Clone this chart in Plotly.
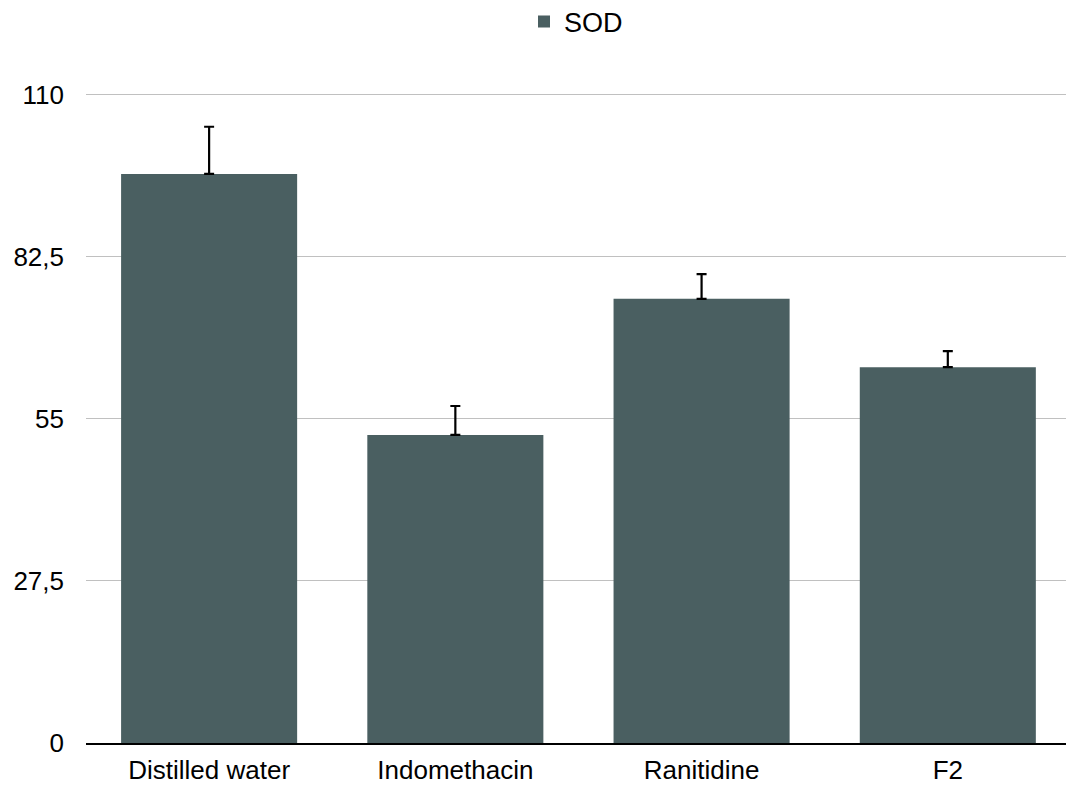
import plotly.graph_objects as go

categories = ["Distilled water", "Indomethacin", "Ranitidine", "F2"]
sod_values = [96.6, 52.3, 75.4, 63.8]
sod_errors = [8.0, 4.9, 4.2, 2.7]
tick_vals = [0, 27.5, 55, 82.5, 110]
tick_text = ["0", "27,5", "55", "82,5", "110"]

fig = go.Figure()
fig.add_trace(go.Bar(
    x=categories, y=sod_values, name="SOD",
    marker=dict(color="#4a5f61", line=dict(width=0)),
    error_y=dict(type="data", array=sod_errors, symmetric=False, arrayminus=[0]*4,
                 color="black", thickness=2.2, width=5),
    showlegend=True,
))

fig.update_layout(
    width=1066, height=787,
    margin=dict(l=86, r=0, t=92, b=44, autoexpand=False),
    paper_bgcolor="white", plot_bgcolor="white",
    font=dict(family="Liberation Sans, Arial, sans-serif", size=27, color="black"),
    bargap=0.285,
    showlegend=True,
    legend=dict(orientation="h", x=0.5, xanchor="center", yref="container", y=0.972,
                yanchor="middle", font=dict(size=27), itemwidth=30),
    xaxis=dict(range=[-0.5, 3.48], showline=True, linecolor="black", linewidth=2, ticks="",
               showgrid=False, tickfont=dict(size=26), ticklabelstandoff=3),
    yaxis=dict(range=[0, 110.5], tickvals=tick_vals, ticktext=tick_text, showgrid=True,
               gridcolor="#c0c0c0", gridwidth=1, zeroline=False, showline=False, ticks="",
               ticklabelstandoff=21, tickfont=dict(size=26)),
)

fig.write_html("out.html", config={"displayModeBar": False},
               post_script="document.body.style.margin='0';document.body.style.overflow='hidden';")
